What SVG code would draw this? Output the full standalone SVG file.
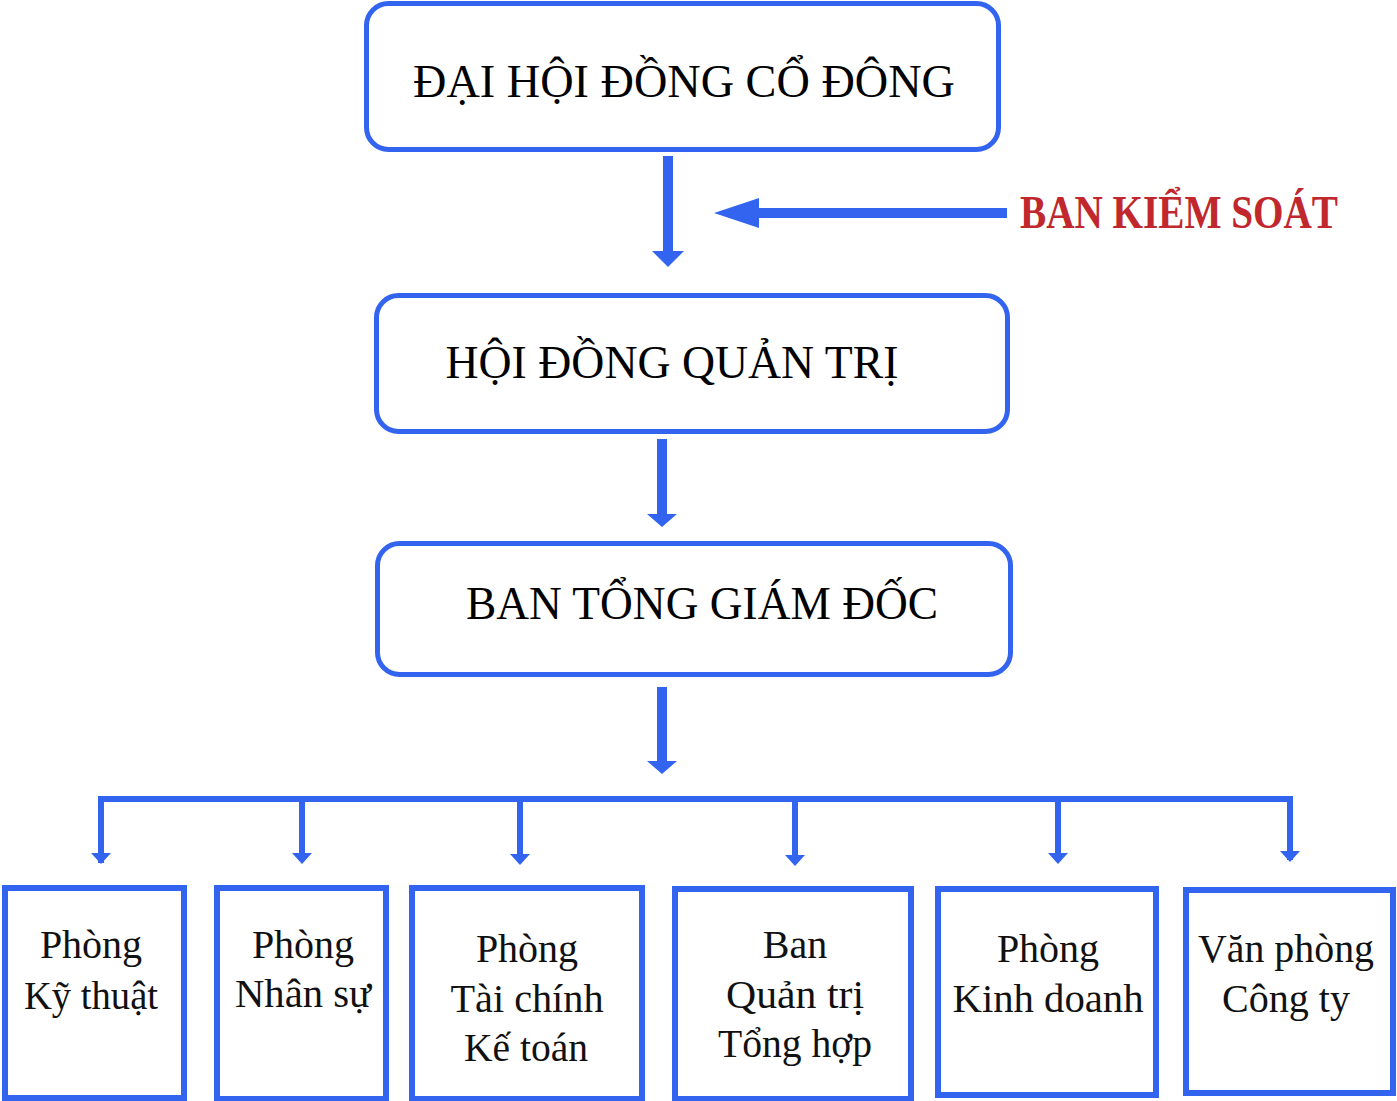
<svg xmlns="http://www.w3.org/2000/svg" width="1397" height="1101" viewBox="0 0 1397 1101">
<style>
.top{fill:#fff;stroke:#3264F0;stroke-width:5}
.box{fill:#fff;stroke:#3264F0;stroke-width:6}
.t1{font-family:"Liberation Serif","Times New Roman",serif;font-size:46px;fill:#000;text-anchor:middle}
.t2{font-family:"Liberation Serif","Times New Roman",serif;font-size:40px;fill:#111;text-anchor:middle}
.red{font-family:"Liberation Serif","Times New Roman",serif;font-size:46px;font-weight:bold;fill:#C0282D}
.ar{fill:#3264F0}
.ln{stroke:#3264F0;fill:none}
</style>
<rect width="1397" height="1101" fill="#fff"/>
<g id="connectors">
  <!-- DHDCD -> HDQT -->
  <rect class="ar" x="663" y="156" width="10" height="96"/>
  <polygon class="ar" points="652,251 684,251 668,267"/>
  <!-- Ban kiem soat arrow -->
  <rect class="ar" x="758" y="208" width="249" height="10"/>
  <polygon class="ar" points="714,213 759,198 759,228"/>
  <!-- HDQT -> BTGD -->
  <rect class="ar" x="657" y="439" width="10" height="76"/>
  <polygon class="ar" points="647,514 677,514 662,527"/>
  <!-- BTGD -> departments -->
  <rect class="ar" x="657" y="687" width="10" height="76"/>
  <polygon class="ar" points="647,761 677,761 662,774"/>
  <!-- bus bar -->
  <path class="ln" stroke-width="6" d="M101,863 V799 H1290 V860"/>
  <path class="ln" stroke-width="6" d="M302,799 V856 M520,799 V856 M795,799 V856 M1058,799 V856 M1290,799 V852"/>
  <polygon class="ar" points="91,853 111,853 101,864"/>
  <polygon class="ar" points="292,853 312,853 302,864"/>
  <polygon class="ar" points="510,854 530,854 520,865"/>
  <polygon class="ar" points="785,855 805,855 795,866"/>
  <polygon class="ar" points="1048,853 1068,853 1058,864"/>
  <polygon class="ar" points="1280,851 1300,851 1290,862"/>
</g>
<g id="dai-hoi-dong-co-dong">
  <rect class="top" x="366.5" y="3.5" width="632" height="146" rx="22"/>
  <text class="t1" x="684" y="97" textLength="542" lengthAdjust="spacingAndGlyphs">ĐẠI HỘI ĐỒNG CỔ ĐÔNG</text>
</g>
<g id="ban-kiem-soat">
  <text class="red" x="1020" y="228" textLength="318" lengthAdjust="spacingAndGlyphs">BAN KIỂM SOÁT</text>
</g>
<g id="hoi-dong-quan-tri">
  <rect class="top" x="376.5" y="295.5" width="631" height="136" rx="22"/>
  <text class="t1" x="672" y="378" textLength="453" lengthAdjust="spacingAndGlyphs">HỘI ĐỒNG QUẢN TRỊ</text>
</g>
<g id="ban-tong-giam-doc">
  <rect class="top" x="377.5" y="543.5" width="633" height="131" rx="22"/>
  <text class="t1" x="702" y="619" textLength="472" lengthAdjust="spacingAndGlyphs">BAN TỔNG GIÁM ĐỐC</text>
</g>
<g id="phong-ky-thuat">
  <rect class="box" x="5" y="888" width="179" height="210"/>
  <text class="t2" x="91" y="958">Phòng</text>
  <text class="t2" x="91" y="1009" textLength="134" lengthAdjust="spacingAndGlyphs">Kỹ thuật</text>
</g>
<g id="phong-nhan-su">
  <rect class="box" x="217" y="888" width="169" height="211"/>
  <text class="t2" x="303" y="958">Phòng</text>
  <text class="t2" x="303" y="1007" textLength="136" lengthAdjust="spacingAndGlyphs">Nhân sự</text>
</g>
<g id="phong-tai-chinh-ke-toan">
  <rect class="box" x="412" y="888" width="230" height="211"/>
  <text class="t2" x="527" y="962">Phòng</text>
  <text class="t2" x="527" y="1012" textLength="153" lengthAdjust="spacingAndGlyphs">Tài chính</text>
  <text class="t2" x="526" y="1061" textLength="124" lengthAdjust="spacingAndGlyphs">Kế toán</text>
</g>
<g id="ban-quan-tri-tong-hop">
  <rect class="box" x="675" y="889" width="236" height="210"/>
  <text class="t2" x="795" y="958">Ban</text>
  <text class="t2" x="795" y="1008" textLength="138" lengthAdjust="spacingAndGlyphs">Quản trị</text>
  <text class="t2" x="795" y="1057" textLength="154" lengthAdjust="spacingAndGlyphs">Tổng hợp</text>
</g>
<g id="phong-kinh-doanh">
  <rect class="box" x="938" y="889" width="218" height="206"/>
  <text class="t2" x="1048" y="962">Phòng</text>
  <text class="t2" x="1048" y="1012" textLength="191" lengthAdjust="spacingAndGlyphs">Kinh doanh</text>
</g>
<g id="van-phong-cong-ty">
  <rect class="box" x="1186" y="890" width="207" height="203"/>
  <text class="t2" x="1286" y="962" textLength="176" lengthAdjust="spacingAndGlyphs">Văn phòng</text>
  <text class="t2" x="1286" y="1012" textLength="128" lengthAdjust="spacingAndGlyphs">Công ty</text>
</g>
</svg>
